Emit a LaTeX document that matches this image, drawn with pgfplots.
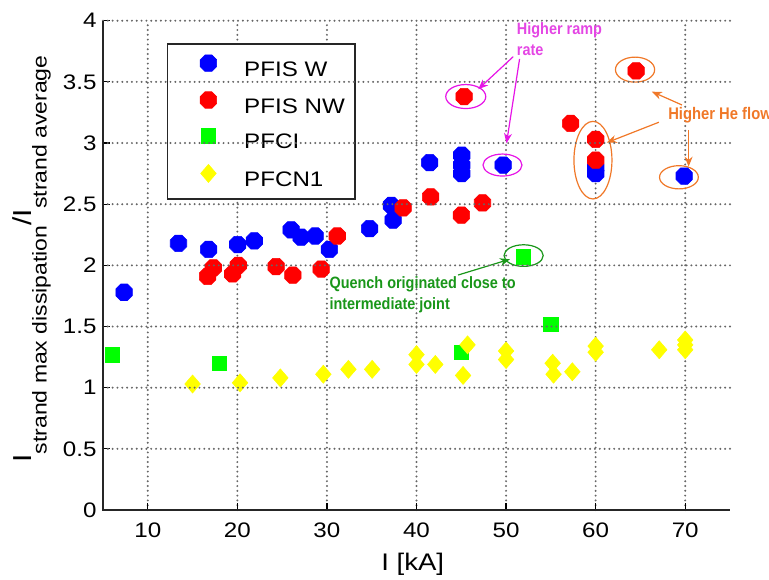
\documentclass[border=0pt]{standalone}
\usepackage{fontspec}
\setmainfont{Liberation Sans}[FakeStretch=1.15]
\newfontfamily\annfont{Liberation Sans}[FakeStretch=0.88]
\usepackage{pgfplots}
\pgfplotsset{compat=1.18}
\usetikzlibrary{arrows.meta}
\definecolor{mblue}{RGB}{0,0,255}
\definecolor{mred}{RGB}{255,0,0}
\definecolor{mgreen}{RGB}{0,255,0}
\definecolor{myellow}{RGB}{255,255,0}
\definecolor{annmag}{RGB}{228,70,228}
\definecolor{arrmag}{RGB}{230,20,230}
\definecolor{annorange}{RGB}{240,120,40}
\definecolor{anngreen}{RGB}{25,150,25}
\pgfdeclareplotmark{oct}{%
  \pgfpathmoveto{\pgfpointpolar{22.5}{\pgfplotmarksize}}%
  \pgfpathlineto{\pgfpointpolar{67.5}{\pgfplotmarksize}}%
  \pgfpathlineto{\pgfpointpolar{112.5}{\pgfplotmarksize}}%
  \pgfpathlineto{\pgfpointpolar{157.5}{\pgfplotmarksize}}%
  \pgfpathlineto{\pgfpointpolar{202.5}{\pgfplotmarksize}}%
  \pgfpathlineto{\pgfpointpolar{247.5}{\pgfplotmarksize}}%
  \pgfpathlineto{\pgfpointpolar{292.5}{\pgfplotmarksize}}%
  \pgfpathlineto{\pgfpointpolar{337.5}{\pgfplotmarksize}}%
  \pgfpathclose
  \pgfusepathqfillstroke}
\tikzset{gridln/.style={black!60, line width=1.1pt, line cap=round, dash pattern=on 0pt off 2.4pt}}
\begin{document}
\begin{tikzpicture}
\begin{axis}[
  scale only axis,
  width=313.5pt, height=244.65pt,
  xmin=5, xmax=75, ymin=0, ymax=4,
  xtick={10,20,30,40,50,60,70},
  ytick={0,0.5,1,1.5,2,2.5,3,3.5,4},
  axis line style={draw=none},
  xtick pos=left, ytick pos=left,
  tick align=inside, major tick length=3.5pt,
  every tick/.style={black, line width=0.6pt},
  xmajorgrids,
  every major grid/.style={gridln},
  extra description/.code={
    \foreach \yy in {0.125,0.25,0.375,0.5,0.625,0.75,0.875,1} {
      \foreach \i [evaluate=\i as \xx using \i/130] in {0,...,130} {
        \fill[black!60] (rel axis cs:\xx,\yy) circle (0.55pt);
      }
    }
    \draw[black!85, line width=0.6pt] (rel axis cs:0,1) -- (rel axis cs:0,0) -- (rel axis cs:1,0);
  },
  /pgf/number format/assume math mode=true,
  ticklabel style={font=\fontsize{10.5}{12}\selectfont},
  xticklabel style={yshift=-3pt},
  yticklabel style={xshift=0.3pt},
  xlabel={I [kA]},
  xlabel style={at={(axis description cs:0.494,0)}, anchor=base, yshift=-30pt, font=\fontsize{12}{14}\selectfont},
  ylabel={I\raisebox{-7.5pt}{\fontsize{10}{10}\selectfont strand max dissipation}/I\raisebox{-7.5pt}{\fontsize{10}{10}\selectfont strand average}},
  ylabel style={at={(axis description cs:-0.1137,0.513)}, anchor=base, font=\fontsize{13}{14}\selectfont},
  clip=false,
  legend style={at={(axis description cs:0.102,0.954)}, anchor=north west,
    draw=black!85, line width=0.75pt, inner xsep=5pt, inner ysep=5.5pt,
    row sep=7pt, column sep=0pt,
    font=\fontsize{10.5}{12}\selectfont,
    nodes={inner sep=0pt, text height=9.25pt, text depth=0.75pt}},
  legend cell align=left,
  legend image code/.code={\path (0pt,0pt) (32.5pt,0pt);
    \draw[#1, only marks] plot coordinates {(15pt,2.3pt)};},
]
\addplot[only marks, mark=oct, mark size=4.45pt,
  mark options={fill=mblue, draw=mblue, line width=0.3pt}]
  coordinates {(7.35,1.78) (13.43,2.18) (16.79,2.13) (20.04,2.17) (21.89,2.20)
  (26.0,2.29) (27.12,2.23) (28.69,2.24) (30.28,2.13) (34.76,2.30) (37.19,2.49)
  (37.38,2.37) (41.47,2.84) (45.05,2.90) (45.05,2.82) (45.05,2.75) (49.68,2.82)
  (60.01,2.75) (60.01,2.80) (69.89,2.73)};
\addlegendentry{PFIS W}
\addplot[only marks, mark=oct, mark size=4.45pt,
  mark options={fill=mred, draw=mred, line width=0.3pt}]
  coordinates {(16.68,1.91) (17.31,1.98) (19.48,1.93) (20.10,2.00) (24.32,1.99)
  (26.19,1.92) (29.36,1.97) (31.15,2.24) (38.50,2.47) (41.58,2.56) (45.02,2.41)
  (47.37,2.51) (45.32,3.38) (57.21,3.16) (60.01,3.03) (60.01,2.86) (64.52,3.59)};
\addlegendentry{PFIS NW}
\addplot[only marks, mark=square*, mark size=3.6pt,
  mark options={fill=mgreen, draw=mgreen, line width=0.3pt}]
  coordinates {(6.05,1.27) (17.98,1.20) (45.02,1.29) (51.92,2.07) (55.01,1.52)};
\addlegendentry{PFCI}
\addplot[only marks, mark=diamond*, mark size=4.5pt,
  mark options={xscale=1.15, fill=myellow, draw=myellow, line width=0.3pt}]
  coordinates {(15.0,1.03) (20.3,1.04) (24.8,1.08) (29.6,1.11) (32.4,1.15)
  (35.05,1.15) (40.0,1.27) (40.0,1.19) (42.1,1.19) (45.7,1.35) (45.2,1.10)
  (50.0,1.30) (50.0,1.23) (55.2,1.20) (55.3,1.11) (57.4,1.13) (60.0,1.34)
  (60.0,1.29) (67.1,1.31) (70.0,1.39) (70.0,1.35) (70.0,1.31)};
\addlegendentry{PFCN1}
% annotations
\draw[arrmag, line width=0.6pt] (axis cs:45.5,3.38) ellipse [x radius=10pt, y radius=6pt];
\draw[arrmag, line width=0.6pt] (axis cs:49.6,2.82) ellipse [x radius=9.75pt, y radius=5.5pt];
\draw[annorange, line width=0.6pt] (axis cs:64.4,3.60) ellipse [x radius=9.8pt, y radius=6.25pt];
\draw[annorange, line width=0.6pt] (axis cs:59.7,2.86) ellipse [x radius=9.5pt, y radius=19.4pt];
\draw[annorange, line width=0.6pt] (axis cs:69.3,2.72) ellipse [x radius=9.7pt, y radius=5.8pt];
\draw[anngreen, line width=0.6pt] (axis cs:51.96,2.08) ellipse [x radius=9.8pt, y radius=5.4pt];
\draw[arrmag, line width=0.6pt, -{Stealth[length=5pt,width=4pt]}] (axis cs:50.80,3.706) -- (axis cs:46.89,3.44);
\draw[arrmag, line width=0.6pt, -{Stealth[length=5pt,width=4pt]}] (axis cs:51.51,3.688) -- (axis cs:50.05,2.998);
\draw[annorange, line width=0.6pt, -{Stealth[length=5pt,width=4pt]}] (axis cs:69.64,3.311) -- (axis cs:66.28,3.42);
\draw[annorange, line width=0.6pt, -{Stealth[length=5pt,width=4pt]}] (axis cs:67.06,3.17) -- (axis cs:61.24,3.003);
\draw[annorange, line width=0.6pt, -{Stealth[length=5pt,width=4pt]}] (axis cs:70.38,3.107) -- (axis cs:70.38,2.807);
\draw[anngreen, line width=0.6pt, -{Stealth[length=5pt,width=4pt]}] (axis cs:44.65,1.921) -- (axis cs:50.42,2.05);
\node[anchor=north west, inner sep=0pt, align=left, text=annmag, font=\annfont\bfseries\fontsize{8.2}{10.5}\selectfont] at (axis cs:51.17,3.99) {Higher ramp\\rate};
\node[anchor=west, inner sep=0pt, text=annorange, font=\annfont\bfseries\fontsize{8.4}{10.5}\selectfont] at (axis cs:68.07,3.23) {Higher He flow};
\node[anchor=north west, inner sep=0pt, align=left, text=anngreen, font=\annfont\bfseries\fontsize{8.2}{10.5}\selectfont] at (axis cs:30.25,1.913) {Quench originated close to\\intermediate joint};
\end{axis}
\pgfresetboundingbox
\path (-51.5pt,-34.5pt) rectangle (333pt,255pt);
\end{tikzpicture}
\end{document}
